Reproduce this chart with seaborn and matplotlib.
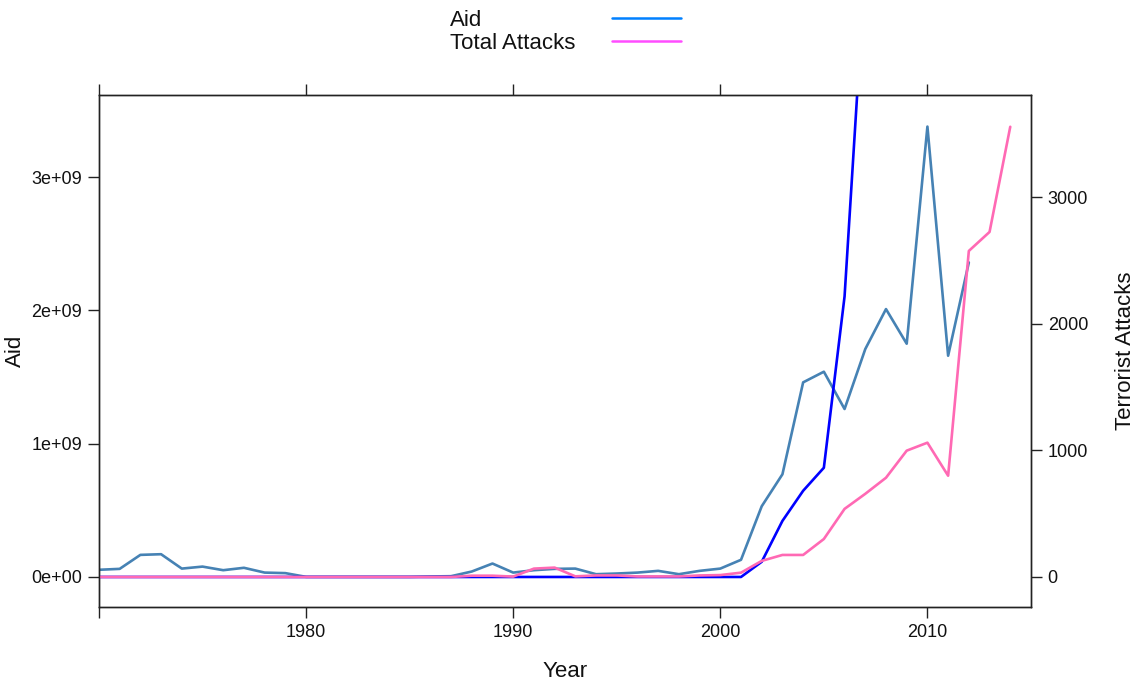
import numpy as np
import pandas as pd
import matplotlib
matplotlib.use("Agg")
import matplotlib.pyplot as plt
from matplotlib.lines import Line2D
import seaborn as sns

# ---- data -------------------------------------------------------------
years = list(range(1970, 2015))

# Aid (left axis), 1970-2012
aid_years = list(range(1970, 2013))
aid = [0.053e9, 0.060e9, 0.165e9, 0.170e9, 0.062e9, 0.077e9, 0.050e9, 0.068e9,
       0.032e9, 0.028e9, 0.0, 0.0, 0.0, 0.0, 0.0, 0.0, 0.003e9, 0.005e9,
       0.040e9, 0.100e9, 0.032e9, 0.050e9, 0.060e9, 0.062e9, 0.020e9, 0.025e9,
       0.032e9, 0.045e9, 0.020e9, 0.045e9, 0.062e9, 0.128e9, 0.530e9, 0.770e9,
       1.460e9, 1.540e9, 1.260e9, 1.710e9, 2.010e9, 1.750e9, 3.380e9, 1.660e9,
       2.360e9]

# Second attack series (right axis), 1970-2007
other_years = list(range(1970, 2008))
other_attacks = [0] * 32 + [120, 443, 681, 863, 2217, 4838]

# Total attacks (right axis), 1970-2014
total_attacks = [0] * 18 + [10, 10, 3, 66, 74, 5, 12, 12, 4, 4, 4, 12, 15, 34,
                            127, 174, 174, 300, 538, 657, 784, 998, 1061, 800,
                            2576, 2726, 3557]

x_ticks = [1970, 1980, 1990, 2000, 2010]
x_tick_labels = ["", "1980", "1990", "2000", "2010"]
aid_ticks = [0, 1e9, 2e9, 3e9]
aid_tick_labels = ["0e+00", "1e+09", "2e+09", "3e+09"]
attack_ticks = [0, 1000, 2000, 3000]
legend_labels = ["Aid", "Total Attacks"]

df_aid = pd.DataFrame({"Year": aid_years, "Aid": aid})
df_other = pd.DataFrame({"Year": other_years, "Attacks": other_attacks})
df_total = pd.DataFrame({"Year": years, "Attacks": total_attacks})

# ---- styling ------------------------------------------------------------
sns.set_style("white")
plt.rcParams["font.family"] = ["Liberation Sans", "DejaVu Sans"]

fig = plt.figure(figsize=(11.44, 6.87), dpi=100)
ax = fig.add_axes([0.0865, 0.1165, 0.8147, 0.7452])
ax2 = ax.twinx()

lw = 1.9
sns.lineplot(data=df_aid, x="Year", y="Aid", ax=ax, color="#4682b4",
             linewidth=lw, estimator=None, sort=False)
sns.lineplot(data=df_other, x="Year", y="Attacks", ax=ax2, color="#0000ff",
             linewidth=lw, estimator=None, sort=False)
sns.lineplot(data=df_total, x="Year", y="Attacks", ax=ax2, color="#ff69b4",
             linewidth=lw, estimator=None, sort=False)

ax.set_xlim(1970, 2015)
ax.set_ylim(-0.226e9, 3.617e9)
ax2.set_ylim(-237, 3808)

frame_col = "#222222"
for a in (ax, ax2):
    for s in a.spines.values():
        s.set_color(frame_col)
        s.set_linewidth(1.0)
        s.set_visible(True)

ax.set_xticks(x_ticks)
ax.set_xticklabels(x_tick_labels)
ax.set_yticks(aid_ticks)
ax.set_yticklabels(aid_tick_labels)
ax2.set_yticks(attack_ticks)
ax2.set_yticklabels([str(t) for t in attack_ticks])

tick_kw = dict(direction="out", length=8, width=1.0, color=frame_col,
               labelsize=13, labelcolor="#111111", pad=4)
ax.tick_params(axis="x", bottom=True, top=True, labelbottom=True,
               labeltop=False, **tick_kw)
ax.tick_params(axis="y", left=True, right=False, labelleft=True,
               labelright=False, **tick_kw)
ax2.tick_params(axis="y", left=False, right=True, labelleft=False,
                labelright=True, **tick_kw)

ax.set_xlabel("Year", fontsize=16, color="#111111")
ax.set_ylabel("Aid", fontsize=16, color="#111111")
ax2.set_ylabel("Terrorist Attacks", fontsize=16, color="#111111")
ax.xaxis.set_label_coords(0.5, -0.106)
ax.yaxis.set_label_coords(-0.078, 0.5)
ax2.yaxis.set_label_coords(1.09, 0.5)
ax.grid(False)
ax2.grid(False)

# ---- legend above the panel: label text on the left, line key on the right
key_colors = ["#0080ff", "#ff4dff"]
rows_y = [0.970, 0.936]
for label, col, yy in zip(legend_labels, key_colors, rows_y):
    fig.text(0.393, yy, label, fontsize=16, ha="left", va="center",
             color="#111111")
    fig.add_artist(Line2D([0.535, 0.595], [yy + 0.004, yy + 0.004],
                          color=col, linewidth=1.8,
                          transform=fig.transFigure))

fig.savefig("out.png", dpi=100)
